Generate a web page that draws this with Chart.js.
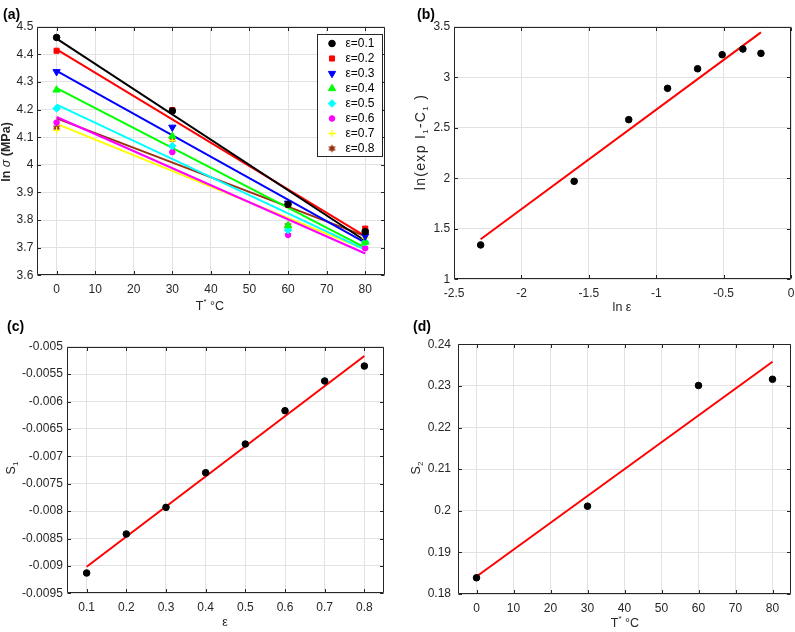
<!DOCTYPE html>
<html><head><meta charset="utf-8">
<script src="https://cdn.jsdelivr.net/npm/chart.js@4/dist/chart.umd.min.js"></script>
<style>
html,body{margin:0;padding:0;background:#fff}
body{width:795px;height:632px;position:relative;overflow:hidden;font-family:"Liberation Sans",Arial,sans-serif}
canvas{position:absolute}
.pl{position:absolute;font-weight:bold;font-size:14px;line-height:14px;color:#000;z-index:2}
.at{position:absolute;transform:translate(-50%,-50%);font-size:12.5px;line-height:1;color:#262626;white-space:nowrap;z-index:2}
.atr{position:absolute;transform:translate(-50%,-50%) rotate(-90deg);font-size:12.5px;line-height:1;color:#262626;white-space:nowrap;z-index:2}
sup,sub{font-size:8px;line-height:0}
sup{vertical-align:6px}
sub{vertical-align:-3px}
</style></head>
<body>
<canvas id="ca" width="400" height="316" style="left:0;top:0"></canvas>
<canvas id="cb" width="395" height="316" style="left:400px;top:0"></canvas>
<canvas id="cc" width="400" height="316" style="left:0;top:316px"></canvas>
<canvas id="cd" width="395" height="316" style="left:400px;top:316px"></canvas>

<div class="pl" style="left:3px;top:7px">(a)</div>
<div class="pl" style="left:417px;top:7px">(b)</div>
<div class="pl" style="left:7px;top:319px">(c)</div>
<div class="pl" style="left:413px;top:319px">(d)</div>

<div class="atr" style="left:6px;top:152px"><b>ln </b><i>σ</i><b> (MPa)</b></div>
<div class="at" style="left:210px;top:306px">T<sup>*</sup> °C</div>
<div class="atr" style="left:420px;top:142px;font-size:14px;letter-spacing:1.3px">ln(exp I<sub>1</sub>-C<sub>1</sub> )</div>
<div class="at" style="left:622px;top:307px">ln ε</div>
<div class="atr" style="left:11px;top:468px">S<sub>1</sub></div>
<div class="at" style="left:225px;top:622px">ε</div>
<div class="atr" style="left:416px;top:468px">S<sub>2</sub></div>
<div class="at" style="left:625px;top:623px">T<sup>*</sup> °C</div>

<script>
// ---------- Panel (a): ln(sigma) vs temperature ----------
const tempC = [0, 30, 60, 80];
const strainLabels = ['ε=0.1','ε=0.2','ε=0.3','ε=0.4','ε=0.5','ε=0.6','ε=0.7','ε=0.8'];
const lnSigmaE01 = [4.461, 4.195, 3.857, 3.758];
const lnSigmaE02 = [4.413, 4.198, 3.855, 3.769];
const lnSigmaE03 = [4.337, 4.136, 3.861, 3.742];
const lnSigmaE04 = [4.271, 4.104, 3.780, 3.720];
const lnSigmaE05 = [4.204, 4.068, 3.764, 3.720];
const lnSigmaE06 = [4.153, 4.046, 3.746, 3.698];
const lnSigmaE07 = [4.125, 4.088, 3.772, 3.735];
const lnSigmaE08 = [4.134, 4.092, 3.781, 3.758];
const fitTempC = [0, 80];
const fitE01 = [4.457, 3.725];
const fitE02 = [4.418, 3.742];
const fitE03 = [4.340, 3.718];
const fitE04 = [4.278, 3.700];
const fitE05 = [4.218, 3.693];
const fitE06 = [4.173, 3.679];
const fitE07 = [4.148, 3.694];
const fitE08 = [4.168, 3.742];
const aXTicks = [0, 10, 20, 30, 40, 50, 60, 70, 80];
const aYTicks = [3.6, 3.7, 3.8, 3.9, 4.0, 4.1, 4.2, 4.3, 4.4, 4.5];

// ---------- Panel (b) ----------
const lnStrain = [-2.303, -1.609, -1.204, -0.916, -0.693, -0.511, -0.357, -0.223];
const lnExpI1C1 = [1.340, 1.970, 2.580, 2.890, 3.084, 3.223, 3.279, 3.236];
const fitLnStrain = [-2.303, -0.223];
const fitLnExpI1C1 = [1.396, 3.444];
const bXTicks = [-2.5, -2, -1.5, -1, -0.5, 0];
const bYTicks = [1, 1.5, 2, 2.5, 3, 3.5];

// ---------- Panel (c) ----------
const strain = [0.1, 0.2, 0.3, 0.4, 0.5, 0.6, 0.7, 0.8];
const s1 = [-0.00913, -0.008418, -0.007932, -0.007299, -0.006776, -0.006168, -0.005626, -0.005353];
const fitStrain = [0.1, 0.8];
const fitS1 = [-0.009015, -0.00517];
const cXTicks = [0.1, 0.2, 0.3, 0.4, 0.5, 0.6, 0.7, 0.8];
const cYTicks = [-0.0095, -0.009, -0.0085, -0.008, -0.0075, -0.007, -0.0065, -0.006, -0.0055, -0.005];

// ---------- Panel (d) ----------
const tempD = [0, 30, 60, 80];
const s2 = [0.1839, 0.2011, 0.2301, 0.2316];
const fitTempD = [0, 80];
const fitS2 = [0.1842, 0.2358];
const dXTicks = [0, 10, 20, 30, 40, 50, 60, 70, 80];
const dYTicks = [0.18, 0.19, 0.2, 0.21, 0.22, 0.23, 0.24];

// ---------- helpers ----------
const AX = '#262626', GRID = '#e2e2e2';
const FONT = {family: '"Liberation Sans", Arial, sans-serif', size: 12};
const fmt = v => String(Number(Number(v).toFixed(6)));
const pts = (xs, ys) => xs.map((x, i) => ({x: x, y: ys[i]}));

function hexagram(color, r) {
  const s = Math.ceil(r * 2 + 2), c = document.createElement('canvas');
  c.width = s; c.height = s;
  const g = c.getContext('2d'), cx = s / 2, cy = s / 2;
  g.fillStyle = color; g.beginPath();
  for (let k = 0; k < 12; k++) {
    const ang = -Math.PI / 2 + k * Math.PI / 6, rr = (k % 2 === 0) ? r : r * 0.58;
    const px = cx + rr * Math.cos(ang), py = cy + rr * Math.sin(ang);
    if (k === 0) g.moveTo(px, py); else g.lineTo(px, py);
  }
  g.closePath(); g.fill();
  return c;
}

function scale(min, max, ticks, size, isX, pad) {
  return {
    type: 'linear', min: min, max: max,
    afterBuildTicks: s => { s.ticks = ticks.map(v => ({value: v})); },
    afterFit: s => {
      if (isX) s.height = size; else s.width = size;
      s.paddingLeft = 0; s.paddingRight = 0; s.paddingTop = 0; s.paddingBottom = 0;
    },
    grid: {color: GRID, drawTicks: false, lineWidth: 1},
    border: {display: false},
    ticks: {color: AX, font: FONT, padding: pad, autoSkip: false, maxRotation: 0, minRotation: 0,
            callback: v => fmt(v)}
  };
}

const matBox = {
  id: 'matBox',
  afterDatasetsDraw(chart) {
    const ctx = chart.ctx, a = chart.chartArea, xs = chart.scales.x, ys = chart.scales.y;
    const L = Math.round(a.left) + 0.5, R = Math.round(a.right) - 0.5,
          T = Math.round(a.top) + 0.5, B = Math.round(a.bottom) - 0.5, tl = 3.5;
    ctx.save();
    ctx.strokeStyle = AX; ctx.lineWidth = 1;
    ctx.beginPath();
    ctx.rect(L, T, R - L, B - T);
    xs.ticks.forEach(t => {
      const p = Math.round(xs.getPixelForValue(t.value)) + 0.5;
      ctx.moveTo(p, B); ctx.lineTo(p, B - tl); ctx.moveTo(p, T); ctx.lineTo(p, T + tl);
    });
    ys.ticks.forEach(t => {
      const p = Math.round(ys.getPixelForValue(t.value)) + 0.5;
      ctx.moveTo(L, p); ctx.lineTo(L + tl, p); ctx.moveTo(R, p); ctx.lineTo(R - tl, p);
    });
    ctx.stroke(); ctx.restore();
  }
};

function drawMarker(ctx, ds, x, y) {
  if (Chart.helpers && Chart.helpers.drawPoint) {
    ctx.fillStyle = ds.pointBackgroundColor; ctx.strokeStyle = ds.pointBorderColor;
    ctx.lineWidth = ds.pointBorderWidth;
    Chart.helpers.drawPoint(ctx, {pointStyle: ds.pointStyle, rotation: ds.pointRotation || 0,
      radius: ds.pointRadius, borderWidth: ds.pointBorderWidth}, x, y);
  }
}

const legendA = {
  id: 'legendA',
  afterDraw(chart) {
    const ctx = chart.ctx;
    const bx = 317.5, by = 34.5, bw = 65, bh = 122;
    ctx.save();
    ctx.fillStyle = '#fff'; ctx.fillRect(bx, by, bw, bh);
    ctx.strokeStyle = AX; ctx.lineWidth = 1; ctx.strokeRect(bx, by, bw, bh);
    const markers = chart.data.datasets.filter(d => d.isMarker);
    markers.forEach((ds, i) => {
      const y = 43.5 + i * 15.0;
      drawMarker(ctx, ds, 332, y);
      ctx.fillStyle = '#000';
      ctx.font = '12px "Liberation Sans", Arial, sans-serif';
      ctx.textBaseline = 'middle'; ctx.textAlign = 'left';
      ctx.fillText(strainLabels[i], 345.5, y + 0.5);
    });
    ctx.restore();
  }
};

function baseOpts(xs, ys, pad) {
  return {
    responsive: false, animation: false, devicePixelRatio: 1,
    layout: {padding: pad, autoPadding: false},
    plugins: {legend: {display: false}, tooltip: {enabled: false}},
    scales: {x: xs, y: ys}
  };
}

// ---------- Panel (a) chart ----------
const brown = '#993311';
const markerDefs = [
  {data: lnSigmaE01, color: '#000000', style: 'circle', r: 3.3},
  {data: lnSigmaE02, color: '#ff0000', style: 'rect', r: 3.6},
  {data: lnSigmaE03, color: '#0000ff', style: 'triangle', r: 4.2, rot: 180},
  {data: lnSigmaE04, color: '#00ff00', style: 'triangle', r: 4.2},
  {data: lnSigmaE05, color: '#00ffff', style: 'rectRot', r: 3.8},
  {data: lnSigmaE06, color: '#ff00ff', style: 'circle', r: 2.8},
  {data: lnSigmaE07, color: '#ffff00', style: 'cross', r: 3.6},
  {data: lnSigmaE08, color: brown, style: hexagram(brown, 4.2), r: 4.2}
];
const fitDefs = [fitE01, fitE02, fitE03, fitE04, fitE05, fitE06, fitE07, fitE08];
const dsA = [];
fitDefs.forEach((f, i) => dsA.push({
  data: pts(fitTempC, f), showLine: true, borderColor: markerDefs[i].color, borderWidth: 2,
  pointRadius: 0, order: 2, clip: false
}));
markerDefs.forEach(m => dsA.push({
  isMarker: true, data: pts(tempC, m.data), showLine: false, order: 1,
  pointStyle: m.style, pointRotation: m.rot || 0, pointRadius: m.r,
  pointBackgroundColor: m.color, pointBorderColor: m.color,
  pointBorderWidth: m.style === 'cross' ? 1.3 : 1
}));
new Chart(document.getElementById('ca'), {
  type: 'scatter', data: {datasets: dsA},
  options: baseOpts(scale(-5, 85, aXTicks, 40.7, true, 7), scale(3.6, 4.5, aYTicks, 37.3, false, 4),
                    {top: 26.7, right: 15.5, left: 0, bottom: 0}),
  plugins: [matBox, legendA]
});

// ---------- Panel (b) chart ----------
new Chart(document.getElementById('cb'), {
  type: 'scatter',
  data: {datasets: [
    {data: pts(fitLnStrain, fitLnExpI1C1), showLine: true, borderColor: '#ff0000', borderWidth: 2, pointRadius: 0, order: 2},
    {data: pts(lnStrain, lnExpI1C1), pointRadius: 3.3, pointBackgroundColor: '#000', pointBorderColor: '#000', order: 1}
  ]},
  options: baseOpts(scale(-2.5, 0, bXTicks, 36.7, true, 7), scale(1, 3.5, bYTicks, 54.1, false, 4),
                    {top: 26.7, right: 4, left: 0, bottom: 0}),
  plugins: [matBox]
});

// ---------- Panel (c) chart ----------
new Chart(document.getElementById('cc'), {
  type: 'scatter',
  data: {datasets: [
    {data: pts(fitStrain, fitS1), showLine: true, borderColor: '#ff0000', borderWidth: 2, pointRadius: 0, order: 2},
    {data: pts(strain, s1), pointRadius: 3.3, pointBackgroundColor: '#000', pointBorderColor: '#000', order: 1}
  ]},
  options: baseOpts(scale(0.05, 0.85, cXTicks, 38.7, true, 7), scale(-0.0095, -0.005, cYTicks, 66.8, false, 4),
                    {top: 30.7, right: 15.8, left: 0, bottom: 0}),
  plugins: [matBox]
});

// ---------- Panel (d) chart ----------
new Chart(document.getElementById('cd'), {
  type: 'scatter',
  data: {datasets: [
    {data: pts(fitTempD, fitS2), showLine: true, borderColor: '#ff0000', borderWidth: 2, pointRadius: 0, order: 2},
    {data: pts(tempD, s2), pointRadius: 3.3, pointBackgroundColor: '#000', pointBorderColor: '#000', order: 1}
  ]},
  options: baseOpts(scale(-5, 85, dXTicks, 38, true, 7), scale(0.18, 0.24, dYTicks, 58, false, 7),
                    {top: 28.3, right: 4, left: 0, bottom: 0}),
  plugins: [matBox]
});
</script>
</body></html>
